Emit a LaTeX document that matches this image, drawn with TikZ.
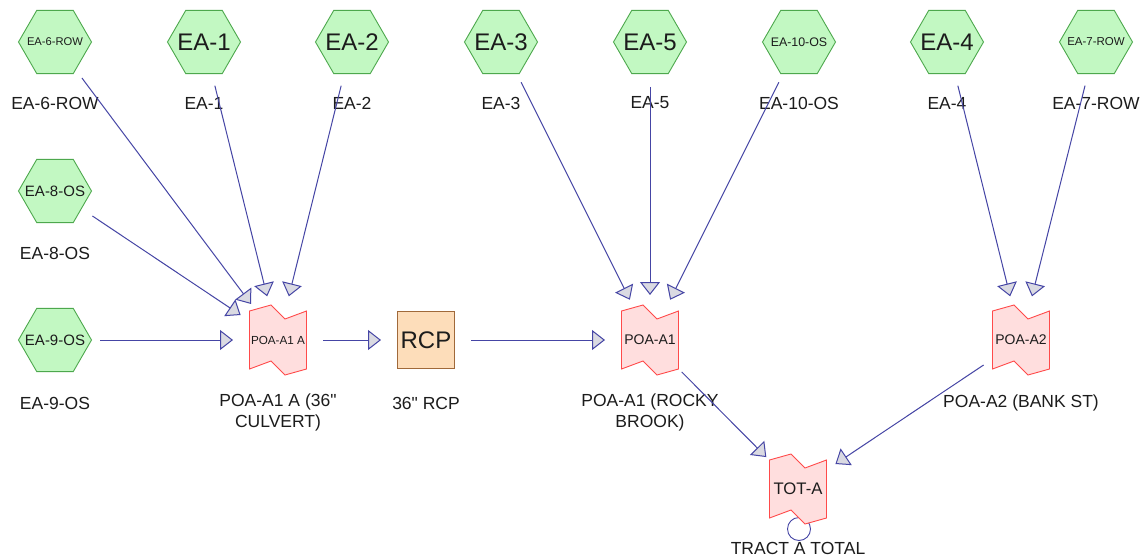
\documentclass[tikz,border=0pt]{standalone}
\usepackage{fontspec}
\setmainfont{Liberation Sans}
% same face without the TeX input mapping, so " stays a straight mark
\newfontfamily\plainface{Liberation Sans}
\usetikzlibrary{arrows.meta,shapes.geometric}

\definecolor{hexfill}{HTML}{C2F8C2}
\definecolor{hexline}{HTML}{4DA84D}
\definecolor{pondfill}{HTML}{FFDEDE}
\definecolor{pondline}{HTML}{FF4A4A}
\definecolor{reachfill}{HTML}{FDDDBA}
\definecolor{reachline}{HTML}{A0693A}
\definecolor{flowline}{HTML}{4545A5}
\definecolor{tipfill}{HTML}{DADAE2}
\definecolor{txt}{HTML}{1C1C1C}

\tikzset{
  sub/.style={regular polygon, regular polygon sides=6, minimum size=73pt,
    inner sep=0pt, fill=hexfill, draw=hexline, line width=0.9pt, text=txt},
  lbl/.style={font=\fontsize{17.5}{21}\selectfont, text=txt, align=center, inner sep=0pt},
  flow/.style={draw=flowline, line width=1pt, shorten <=45pt, shorten >=45pt,
    -{Triangle[length=13pt,width=20pt,fill=tipfill]}},
  pondnode/.style={minimum width=57pt, minimum height=57pt, inner sep=0pt, text=txt},
  reach/.style={rectangle, minimum size=57pt, inner sep=0pt, fill=reachfill,
    draw=reachline, line width=0.9pt, text=txt, font=\fontsize{24}{24}\selectfont},
}

% text of a given size, centred on a zero-width box
\newcommand{\fs}[2]{\fontsize{#1}{#1}\selectfont\makebox[0pt]{#2}}
% straight inch mark
\newcommand{\inch}{{\plainface"}}

% pond outline with a notched top and bottom edge, then its named node
\newcommand{\pondat}[4]{%
  \filldraw[fill=pondfill, draw=pondline, line width=0.9pt, shift={(#2,#3)}]
    (-28.5,-29) -- (-7,-35) -- (7,-21) -- (28.5,-29) -- (28.5,29)
    -- (7,35) -- (-7,21) -- (-28.5,29) -- cycle;
  \node[pondnode] (#1) at (#2,#3) {#4};}

\begin{document}
\begin{tikzpicture}[x=1pt, y=-1pt]
\fill[white] (0,0) rectangle (1145,559);
\useasboundingbox (0,0) rectangle (1145,559);

% subcatchments
\node[sub] (ea6)  at (55,42)   {\fs{11.2}{EA-6-ROW}};
\node[sub] (ea1)  at (204,42)  {\fs{24}{EA-1}};
\node[sub] (ea2)  at (352,42)  {\fs{24}{EA-2}};
\node[sub] (ea3)  at (501,42)  {\fs{24}{EA-3}};
\node[sub] (ea5)  at (650,42)  {\fs{24}{EA-5}};
\node[sub] (ea10) at (799,42)  {\fs{12.4}{EA-10-OS}};
\node[sub] (ea4)  at (947,42)  {\fs{24}{EA-4}};
\node[sub] (ea7)  at (1096,42) {\fs{11.5}{EA-7-ROW}};
\node[sub] (ea8)  at (55,191)  {\fs{15}{EA-8-OS}};
\node[sub] (ea9)  at (55,340)  {\fs{15}{EA-9-OS}};

\node[lbl] (l6)  at (55,103)   {EA-6-ROW};
\node[lbl] (l1)  at (204,103)  {EA-1};
\node[lbl] (l2)  at (352,103)  {EA-2};
\node[lbl] (l3)  at (501,103)  {EA-3};
\node[lbl] (l5)  at (650,103)  {EA-5};
\node[lbl] (l10) at (799,103)  {EA-10-OS};
\node[lbl] (l4)  at (947,103)  {EA-4};
\node[lbl] (l7)  at (1096,103) {EA-7-ROW};
\node[lbl] (l8)  at (55,253)   {EA-8-OS};
\node[lbl] (l9)  at (55,403)   {EA-9-OS};

% outlet circle under the total node
\draw[flowline, line width=0.9pt] (799,529) circle (11.5);

% ponds and reach
\pondat{pa1a}{278}{340}{\fs{11.7}{POA-A1 A}}
\pondat{pa1}{650}{340}{\fs{14}{POA-A1}}
\pondat{pa2}{1021}{340}{\fs{14}{POA-A2}}
\pondat{tot}{798}{489}{\fs{16.7}{TOT-A}}
\node[reach] (rcp) at (426,340) {RCP};

\node[lbl] (lpa1a) at (278,412.5) {POA-A1 A (36\inch\\CULVERT)};
\node[lbl] (lrcp)  at (426,403)   {36\inch{} RCP};
\node[lbl] (lpa1)  at (650,412.5) {POA-A1 (ROCKY\\BROOK)};
\node[lbl] (lpa2)  at (1021,403)  {POA-A2 (BANK ST)};
\node[lbl] (ltot)  at (798,548)   {TRACT A TOTAL};

% routing
\foreach \s in {ea6,ea1,ea2,ea8,ea9}
  \draw[flow] (\s.center) -- (pa1a.center);
\foreach \s in {ea3,ea5,ea10}
  \draw[flow] (\s.center) -- (pa1.center);
\foreach \s in {ea4,ea7}
  \draw[flow] (\s.center) -- (pa2.center);
\draw[flow] (pa1a.center) -- (rcp.center);
\draw[flow] (rcp.center) -- (pa1.center);
\draw[flow] (pa1.center) -- (tot.center);
\draw[flow] (pa2.center) -- (tot.center);
\end{tikzpicture}
\end{document}
